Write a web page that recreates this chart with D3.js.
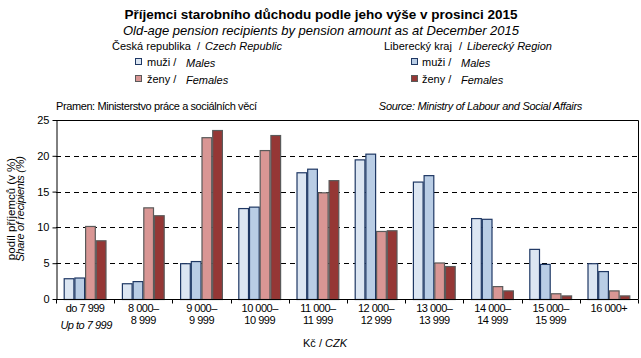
<!DOCTYPE html>
<html><head><meta charset="utf-8">
<script src="https://cdn.jsdelivr.net/npm/d3@7"></script>
<style>body{margin:0;background:#fff}svg{font-family:"Liberation Sans",Arial,sans-serif}</style>
</head><body><svg id="c" width="641" height="358"></svg>
<script>
const categories = ["do 7 999","8 000–8 999","9 000–9 999","10 000–10 999","11 000–11 999","12 000–12 999","13 000–13 999","14 000–14 999","15 000–15 999","16 000+"];
const catLine1 = ["do 7 999","8 000–","9 000–","10 000–","11 000–","12 000–","13 000–","14 000–","15 000–","16 000+"];
const catLine2 = ["","8 999","9 999","10 999","11 999","12 999","13 999","14 999","15 999",""];
const czMales   = [2.9, 2.2, 5.0, 12.7, 17.7, 19.5, 16.4, 11.3, 7.0, 5.0];
const lbMales   = [3.0, 2.5, 5.3, 12.9, 18.2, 20.3, 17.3, 11.2, 4.9, 3.9];
const czFemales = [10.2, 12.8, 22.6, 20.8, 14.9, 9.5, 5.1, 1.8, 0.8, 1.2];
const lbFemales = [8.2, 11.7, 23.6, 22.9, 16.6, 9.6, 4.6, 1.2, 0.5, 0.5];
const yTicks = [0,5,10,15,20,25];
const seriesNames = ["czM","lbM","czF","lbF"];
const seriesData = [czMales, lbMales, czFemales, lbFemales];
const fills = ["#dce6f2","#b9cde5","#d99694","#953735"];
const strokes = ["#1f3864","#1f3864","#5a5a5a","#5a5a5a"];

const svg = d3.select("#c");
const L=56, R=638, T=120, B=299;
const x = d3.scaleBand().domain(categories).range([L,R]).paddingInner(0).paddingOuter(0);
const xs = d3.scaleBand().domain(seriesNames).range([0,x.bandwidth()]).paddingInner(0).paddingOuter(0.72);
const y = d3.scaleLinear().domain([0,25]).range([B,T]);

// gridlines
svg.append("g").selectAll("line").data(yTicks.filter(d=>d>0&&d<25)).join("line")
  .attr("x1",L).attr("x2",R).attr("y1",d=>Math.round(y(d))+0.5).attr("y2",d=>Math.round(y(d))+0.5)
  .attr("stroke","#000").attr("stroke-dasharray","5,4").attr("stroke-width",1);
// top/right border
svg.append("path").attr("d",`M${L},${T+0.5}H${R+0.5}V${B}`).attr("fill","none").attr("stroke","#000");

// bars
seriesData.forEach((vals,si)=>{
  svg.append("g").selectAll("rect").data(vals).join("rect")
    .attr("x",(d,i)=>x(categories[i])+xs(seriesNames[si])+0.5)
    .attr("y",d=>y(d)+0.5)
    .attr("width",xs.bandwidth()-1)
    .attr("height",d=>B-y(d))
    .attr("fill",fills[si]).attr("stroke",strokes[si]).attr("stroke-width",1.2);
});

// y axis
const ya = svg.append("g").attr("transform",`translate(${L+0.5},0)`)
  .call(d3.axisLeft(y).tickValues(yTicks).tickSize(4).tickSizeOuter(0));
ya.select(".domain").attr("stroke","#000");
ya.selectAll("text").attr("font-size",11).attr("fill","#000").attr("font-family","Liberation Sans, Arial");
// x axis
const xa = svg.append("g").attr("transform",`translate(0,${B+0.5})`);
xa.append("line").attr("x1",L).attr("x2",R+0.5).attr("stroke","#000");
const bounds = categories.map(c=>x(c)).concat([R]);
xa.selectAll("line.t").data(bounds).join("line").attr("class","t")
  .attr("x1",d=>Math.round(d)+0.5).attr("x2",d=>Math.round(d)+0.5).attr("y1",0).attr("y2",4).attr("stroke","#000");
xa.selectAll("text.l1").data(categories).join("text").attr("class","l1")
  .attr("x",d=>x(d)+x.bandwidth()/2).attr("y",12.5).attr("text-anchor","middle")
  .attr("font-size",11).attr("letter-spacing",-0.5).text((d,i)=>catLine1[i]);
xa.selectAll("text.l2").data(categories).join("text").attr("class","l2")
  .attr("x",d=>x(d)+x.bandwidth()/2).attr("y",24).attr("text-anchor","middle")
  .attr("font-size",11).attr("letter-spacing",-0.5).text((d,i)=>catLine2[i]);
xa.append("text").attr("x",x(categories[0])+x.bandwidth()/2+1).attr("y",29).attr("text-anchor","middle")
  .attr("font-size",11).attr("font-style","italic").attr("letter-spacing",-0.5).text("Up to 7 999");

svg.append("text").attr("x",325).attr("y",347).attr("text-anchor","middle").attr("font-size",11)
  .html('Kč / <tspan font-style="italic">CZK</tspan>');

// y label
const yl = svg.append("g").attr("transform","translate(0,209) rotate(-90)");
yl.append("text").attr("x",0).attr("y",15).attr("text-anchor","middle").attr("font-size",11.5).text("podíl příjemců  (v %)");
yl.append("text").attr("x",0).attr("y",24).attr("text-anchor","middle").attr("font-size",11).attr("font-style","italic").attr("letter-spacing",-0.3).text("Share of recipients (%)");

// titles
svg.append("text").attr("x",321).attr("y",19).attr("text-anchor","middle").attr("font-size",13.5).attr("font-weight","bold").text("Příjemci starobního důchodu podle jeho výše v prosinci 2015");
svg.append("text").attr("x",321).attr("y",35).attr("text-anchor","middle").attr("font-size",13).attr("font-style","italic").text("Old-age pension recipients by pension amount  as at December 2015");

// legend
function legendBlock(hx, head, slashX, itX, headIt, sqX, txX, mtX, f1, s1, f2, s2){
  svg.append("text").attr("x",hx).attr("y",50).attr("font-size",11).text(head);
  svg.append("text").attr("x",slashX).attr("y",50).attr("font-size",11).text("/");
  svg.append("text").attr("x",itX).attr("y",50).attr("font-size",11).attr("font-style","italic").text(headIt);
  const items=[["muži /","Males",f1,s1],["ženy /","Females",f2,s2]];
  items.forEach((it,i)=>{
    const yy = 66 + i*17;
    svg.append("rect").attr("x",sqX+0.5).attr("y",yy-7.5).attr("width",6).attr("height",6).attr("fill",it[2]).attr("stroke",it[3]);
    svg.append("text").attr("x",txX).attr("y",yy).attr("font-size",11).text(it[0]);
    svg.append("text").attr("x",mtX).attr("y",yy+1).attr("font-size",11).attr("font-style","italic").text(it[1]);
  });
}
legendBlock(112,"Česká republika",197,205,"Czech Republic",135,147,186,fills[0],strokes[0],fills[2],strokes[2]);
legendBlock(384,"Liberecký kraj",459,467,"Liberecký Region",411,422,461,fills[1],strokes[1],fills[3],strokes[3]);

svg.append("text").attr("x",56).attr("y",110).attr("font-size",11).attr("letter-spacing",-0.4).text("Pramen: Ministerstvo práce a sociálních věcí");
svg.append("text").attr("x",582).attr("y",110).attr("text-anchor","end").attr("font-size",11).attr("font-style","italic").attr("letter-spacing",-0.3).text("Source: Ministry of Labour and Social Affairs");
</script></body></html>
